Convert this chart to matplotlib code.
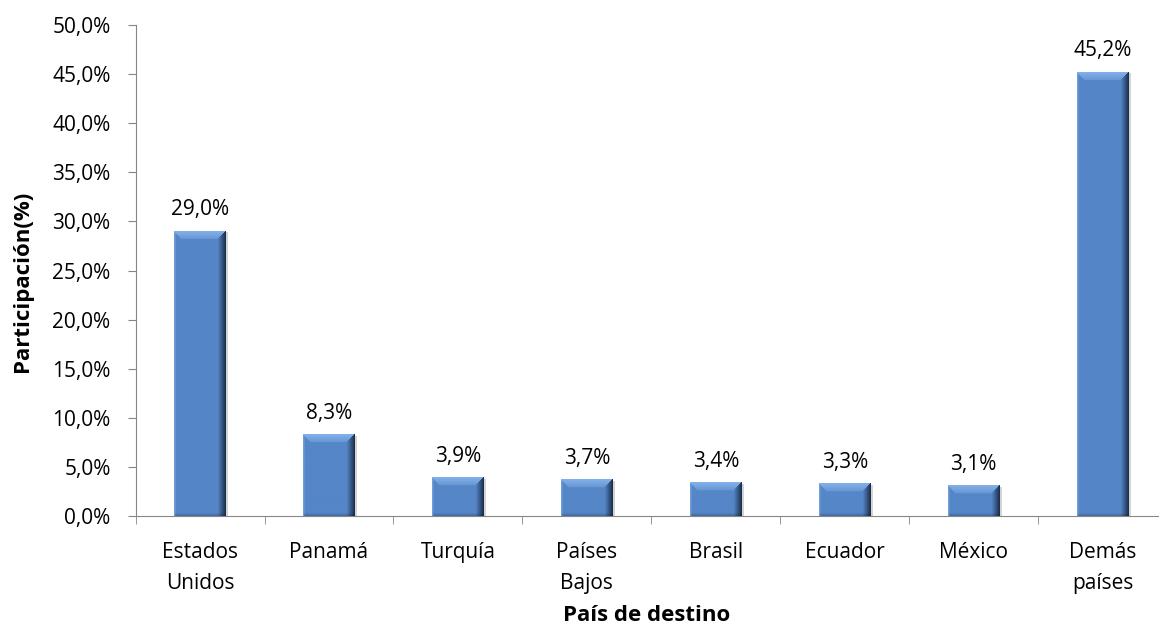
import numpy as np
import matplotlib
matplotlib.use("Agg")
import matplotlib.pyplot as plt
from matplotlib.ticker import FuncFormatter, FixedLocator

paises = ["Estados\nUnidos", "Panamá", "Turquía", "Países\nBajos", "Brasil",
          "Ecuador", "México", "Demás\npaíses"]
participacion = [29.0, 8.3, 3.9, 3.7, 3.4, 3.3, 3.1, 45.2]

plt.rcParams['font.family'] = ['Open Sans', 'DejaVu Sans']

fig = plt.figure(figsize=(11.59, 6.27), dpi=100)
ax_pos = [0.117, 0.177, 0.89, 0.783]
ax = fig.add_axes(ax_pos)

x = np.arange(len(paises))
bars = ax.bar(x, participacion, width=0.4, color='#5586c7', edgecolor='none', zorder=2)

ax.set_xlim(-0.5, len(paises) - 0.5)
ax.set_ylim(0, 50)

# pixel scale of the axes, used to draw the bevel of each bar
px_per_x = ax_pos[2] * 1159 / len(paises)
px_per_y = ax_pos[3] * 627 / 50.0

def bevel_image(w_px, h_px):
    base = np.array([0x55, 0x86, 0xc7]) / 255
    light = np.array([0x82, 0xb0, 0xe8]) / 255
    dark = np.array([0x1c, 0x30, 0x4c]) / 255
    img = np.tile(base, (h_px, w_px, 1))
    b = 8
    # top bevel (trapezoid)
    for r in range(min(b, h_px)):
        t = 1 - r / b
        img[r, r:w_px - 1 - r] = base + (light - base) * (0.35 + 0.65 * t)
    # right dark edge
    e = 8
    rows = np.arange(h_px)
    for k in range(e):
        col = w_px - e + k
        t = (k + 1) / e
        mask = rows >= (w_px - 1 - col)
        img[mask, col] = base + (dark - base) * t ** 1.1
    # left light edge
    img[1:, 0] = base + (light - base) * 0.6
    img[2:, 1] = base + (light - base) * 0.3
    # bottom shade
    for r in range(min(3, h_px)):
        img[h_px - 1 - r, 1:] *= 0.82 + 0.06 * r
    return np.clip(img, 0, 1)

for b in bars:
    x0, w, h = b.get_x(), b.get_width(), b.get_height()
    w_px = int(round(w * px_per_x))
    h_px = max(int(round(h * px_per_y)), 4)
    ax.imshow(bevel_image(w_px, h_px), extent=[x0, x0 + w, 0, h], aspect='auto',
              zorder=3, interpolation='bilinear')
    # soft shadow on the right
    ax.bar(x0 + w + 0.01, h - 0.1, width=0.02, align='center', color='#d4d4d4', zorder=1)
    ax.text(x0 + w / 2, h + 1.1, f"{h:.1f}%".replace('.', ','),
            ha='center', va='bottom', fontsize=15, color='black')

ax.set_xlim(-0.5, len(paises) - 0.5)
ax.set_ylim(0, 50)
ax.yaxis.set_major_locator(FixedLocator(np.arange(0, 50.1, 5)))
ax.yaxis.set_major_formatter(FuncFormatter(lambda v, p: f"{v:.1f}%".replace('.', ',')))
ax.set_xticks(x)
ax.set_xticklabels(paises, fontsize=15, linespacing=1.58)
ax.xaxis.set_minor_locator(FixedLocator(np.arange(-0.5, len(paises), 1)))
ax.tick_params(axis='x', which='major', length=0, pad=19)
ax.tick_params(axis='x', which='minor', length=6, color='#868686', direction='out')
ax.tick_params(axis='y', length=6, color='#868686', labelsize=15, direction='out', pad=12)

for s in ['top', 'right']:
    ax.spines[s].set_visible(False)
for s in ['left', 'bottom']:
    ax.spines[s].set_color('#868686')

ax.set_ylabel("Participación(%)", fontsize=16, fontweight='bold')
ax.yaxis.set_label_coords(-0.0995, 0.477)
ax.set_xlabel("País de destino", fontsize=16, fontweight='bold')
ax.xaxis.set_label_coords(0.495, -0.182)

fig.savefig("out.png", dpi=100)
